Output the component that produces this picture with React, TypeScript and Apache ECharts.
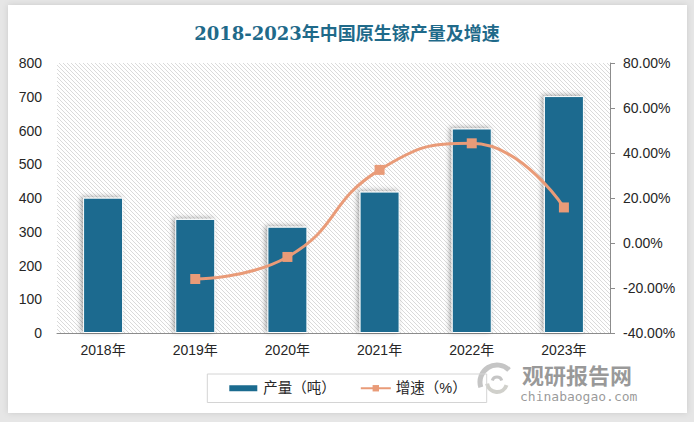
import React, { useEffect, useRef } from "react";
import * as echarts from "echarts";

const categories = ["2018年", "2019年", "2020年", "2021年", "2022年", "2023年"];
const production = [401, 338, 315, 419, 606, 702];
const growth = [null, -16.0, -6.2, 32.5, 44.3, 15.8];
const titleText = "2018-2023年中国原生镓产量及增速";
const seriesNames = ["产量（吨）", "增速（%）"];

function makeHatch(): string {
  const c = document.createElement("canvas");
  c.width = 4;
  c.height = 4;
  const ctx = c.getContext("2d")!;
  ctx.fillStyle = "#ffffff";
  ctx.fillRect(0, 0, 4, 4);
  ctx.strokeStyle = "#dadada";
  ctx.lineWidth = 1;
  ctx.beginPath();
  ctx.moveTo(-1, -1);
  ctx.lineTo(5, 5);
  ctx.moveTo(-1, 3);
  ctx.lineTo(1, 5);
  ctx.moveTo(3, -1);
  ctx.lineTo(5, 1);
  ctx.stroke();
  return c.toDataURL();
}

export default function App() {
  const ref = useRef<HTMLDivElement>(null);
  useEffect(() => {
    if (!ref.current) return;
    const chart = echarts.init(ref.current, null, { renderer: "svg" });
    const hatch = makeHatch();
    const labelFont = "Liberation Sans, Noto Sans CJK SC, sans-serif";
    chart.setOption({
      animation: false,
      backgroundColor: "#e6e6e6",
      title: {
        text: titleText,
        left: "center",
        top: 19,
        textStyle: {
          color: "#1f6a8a",
          fontSize: 18,
          fontWeight: "bold",
          fontFamily: "DejaVu Serif, Noto Sans CJK SC, serif",
        },
      },
      graphic: [
        {
          type: "rect",
          z: -10,
          silent: true,
          shape: { x: 8, y: 5, width: 679, height: 408 },
          style: { fill: "#ffffff", shadowBlur: 6, shadowColor: "rgba(0,0,0,0.12)" },
        },
        {
          type: "group",
          silent: true,
          z: 100,
          children: [
            { type: "arc", shape: { cx: 497, cy: 382, r: 17, startAngle: Math.PI * 0.9, endAngle: Math.PI * 1.75 }, style: { stroke: "rgba(150,150,150,0.55)", lineWidth: 5, fill: "none" } },
            { type: "arc", shape: { cx: 497, cy: 382, r: 10, startAngle: Math.PI * 0.1, endAngle: Math.PI * 0.95 }, style: { stroke: "rgba(170,170,160,0.55)", lineWidth: 4, fill: "none" } },
            { type: "arc", shape: { cx: 497, cy: 382, r: 5, startAngle: Math.PI * 1.1, endAngle: Math.PI * 1.9 }, style: { stroke: "rgba(150,150,150,0.55)", lineWidth: 3, fill: "none" } },
            { type: "text", x: 522, y: 363, style: { text: "观研报告网", fill: "rgba(120,120,120,0.75)", fontSize: 22, lineHeight: 22, fontWeight: "bold", fontFamily: "Noto Sans CJK SC, sans-serif" } },
            { type: "text", x: 520, y: 390, style: { text: "chinabaogao.com", fill: "rgba(120,120,120,0.75)", fontSize: 13, lineHeight: 13, fontFamily: "DejaVu Sans Mono, monospace" } },
          ],
        },
      ],
      grid: {
        left: 57,
        right: 84,
        top: 63,
        bottom: 89,
        show: true,
        borderWidth: 0,
        backgroundColor: { image: hatch, repeat: "repeat" },
      },
      legend: {
        data: [
          { name: seriesNames[0], icon: "rect" },
          { name: seriesNames[1] },
        ],
        left: "center",
        top: 374,
        itemWidth: 30,
        itemHeight: 8,
        itemGap: 24,
        padding: [7, 20, 7, 20],
        borderColor: "#d4d4d4",
        borderWidth: 1,
        borderRadius: 0,
        textStyle: { fontSize: 14.5, color: "#262626", fontFamily: labelFont },
      },
      xAxis: {
        type: "category",
        data: categories,
        axisLine: { show: true, lineStyle: { color: "#8c8c8c", width: 1 } },
        axisTick: { show: false },
        axisLabel: { color: "#262626", fontSize: 14, margin: 10, lineHeight: 14, fontFamily: labelFont },
      },
      yAxis: [
        {
          type: "value",
          min: 0,
          max: 800,
          interval: 100,
          axisLine: { show: false },
          axisTick: { show: false },
          splitLine: { show: false },
          axisLabel: { color: "#262626", fontSize: 14, margin: 15, fontFamily: labelFont },
        },
        {
          type: "value",
          min: -40,
          max: 80,
          interval: 20,
          position: "right",
          axisLine: { show: true, lineStyle: { color: "#8c8c8c", width: 1 } },
          axisTick: { show: true, inside: false, length: 5, lineStyle: { color: "#8c8c8c" } },
          splitLine: { show: false },
          axisLabel: {
            color: "#262626",
            fontSize: 14,
            margin: 13,
            fontFamily: labelFont,
            formatter: (v: number) => v.toFixed(2) + "%",
          },
        },
      ],
      series: [
        {
          name: seriesNames[0],
          type: "bar",
          data: production,
          barWidth: 40,
          itemStyle: {
            color: "#1b6b8f",
            borderColor: "#ffffff",
            borderWidth: 1,
            shadowBlur: 5,
            shadowColor: "rgba(0,0,0,0.35)",
            shadowOffsetX: -2,
            shadowOffsetY: -1,
          },
        },
        {
          name: seriesNames[1],
          type: "line",
          yAxisIndex: 1,
          data: growth,
          smooth: 0.5,
          symbol: "rect",
          symbolSize: 10,
          lineStyle: { color: "#e99b78", width: 3 },
          itemStyle: { color: "#e99b78" },
        },
      ],
    });
    return () => chart.dispose();
  }, []);
  return (
    <div
      ref={ref}
      style={{ position: "absolute", left: 0, top: 0, width: 694, height: 422 }}
    />
  );
}
